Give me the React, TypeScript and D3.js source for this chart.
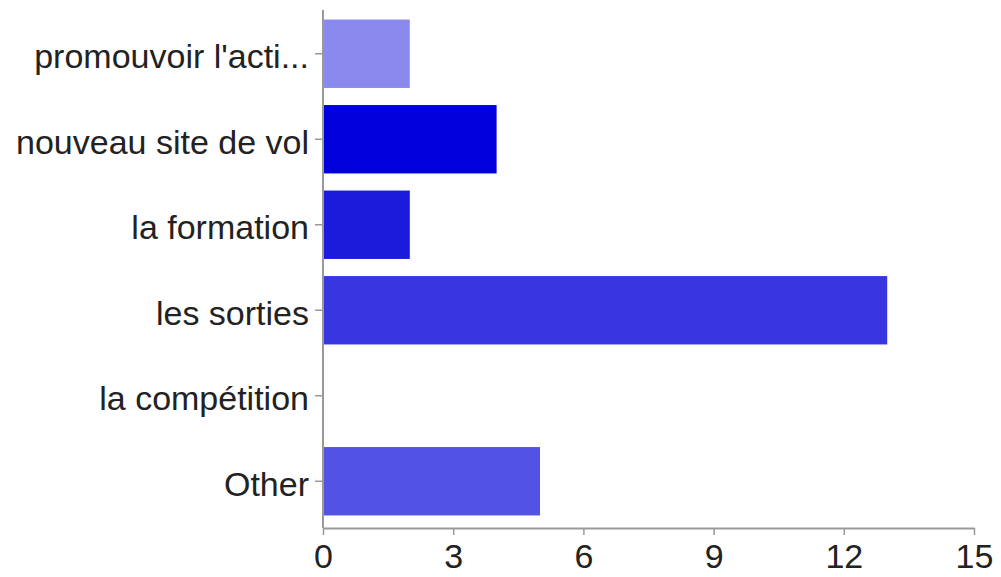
import { useEffect, useRef } from 'react';
import * as d3 from 'd3';

const categories = [
  "promouvoir l'acti...",
  'nouveau site de vol',
  'la formation',
  'les sorties',
  'la compétition',
  'Other',
];
const counts = [2, 4, 2, 13, 0, 5];
const barColors = ['#8a8aee', '#0000dd', '#1c1adb', '#3836e0', '#5050e6', '#5252e6'];
const xTicks = [0, 3, 6, 9, 12, 15];

export default function App() {
  const svgRef = useRef<SVGSVGElement>(null);

  useEffect(() => {
    const W = 1001;
    const H = 577;
    const svg = d3.select(svgRef.current).attr('width', W).attr('height', H);
    svg.selectAll('*').remove();

    const x = d3.scaleLinear().domain([0, 15]).range([323, 974]);
    const y = d3
      .scaleBand()
      .domain(categories)
      .range([11, 524])
      .paddingInner(0.2)
      .paddingOuter(0.1);

    const font = 'Liberation Sans, Arial, sans-serif';

    // bars
    svg
      .selectAll('rect.bar')
      .data(categories)
      .enter()
      .append('rect')
      .attr('class', 'bar')
      .attr('x', x(0))
      .attr('y', d => y(d)!)
      .attr('height', y.bandwidth())
      .attr('width', (d, i) => x(counts[i]) - x(0))
      .attr('fill', (d, i) => barColors[i]);

    // left axis
    const yAxis = svg
      .append('g')
      .attr('transform', `translate(${x(0)},0)`)
      .call(d3.axisLeft(y).tickSize(8).tickSizeOuter(0).tickPadding(6));
    yAxis.select('.domain').remove();
    yAxis.selectAll('.tick line').attr('stroke', '#999').attr('stroke-width', 1.5);
    yAxis
      .selectAll('.tick text')
      .attr('font-family', font)
      .attr('font-size', 34)
      .attr('dy', '0.42em')
      .attr('fill', '#222');
    svg
      .append('line')
      .attr('x1', x(0))
      .attr('x2', x(0))
      .attr('y1', 10)
      .attr('y2', 528)
      .attr('stroke', '#999')
      .attr('stroke-width', 2);

    // bottom axis
    const xAxis = svg
      .append('g')
      .attr('transform', `translate(0,528)`)
      .call(d3.axisBottom(x).tickValues(xTicks).tickSize(7).tickSizeOuter(0).tickPadding(9));
    xAxis.select('.domain').attr('stroke', '#999').attr('stroke-width', 2);
    xAxis.selectAll('.tick line').attr('stroke', '#999').attr('stroke-width', 1.5);
    xAxis
      .selectAll('.tick text')
      .attr('font-family', font)
      .attr('font-size', 34)
      .attr('fill', '#222');
  }, []);

  return <svg ref={svgRef} style={{ position: 'absolute', left: 0, top: 0, background: '#fff' }} />;
}
